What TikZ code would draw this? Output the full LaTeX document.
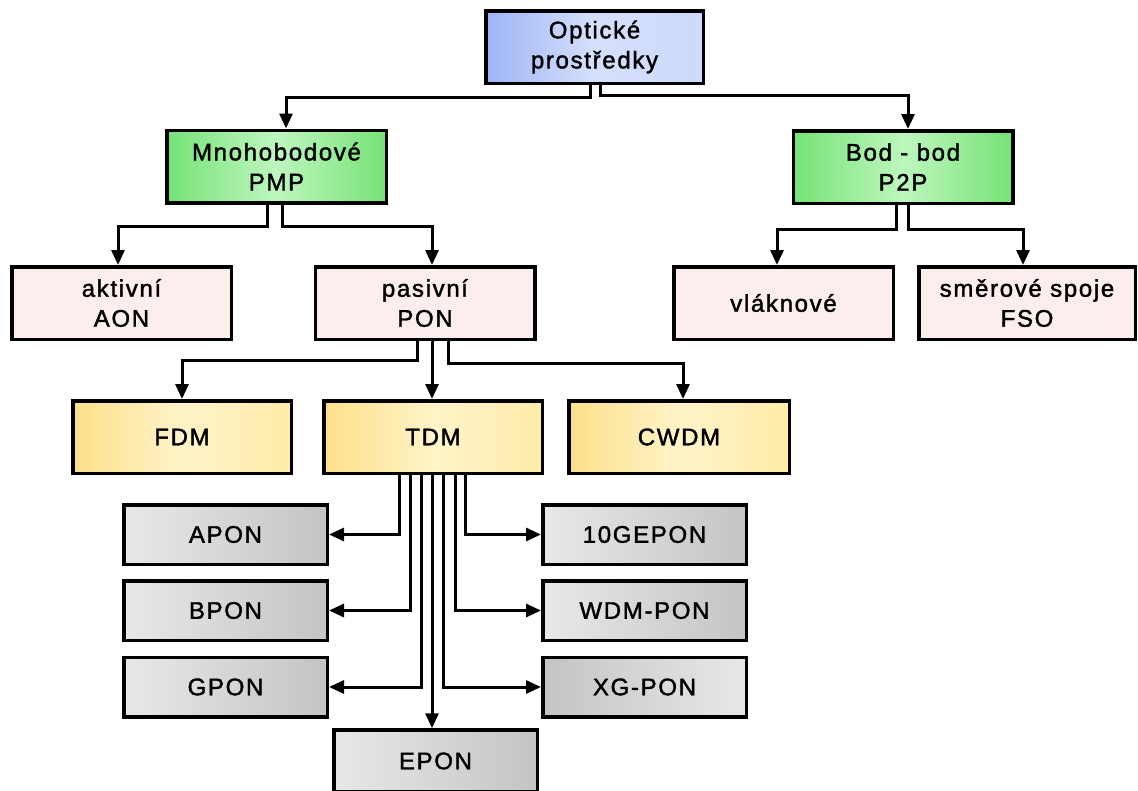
\documentclass[tikz,border=0pt]{standalone}
\usepackage{fontspec}
\setmainfont{Liberation Sans}[LetterSpace=7, FakeBold=1.6]
\usetikzlibrary{arrows.meta}

\definecolor{bluedark}{RGB}{157,181,246}
\definecolor{bluelight}{RGB}{214,224,252}
\definecolor{greendark}{RGB}{118,226,118}
\definecolor{greenlight}{RGB}{190,246,190}
\definecolor{pinkfill}{RGB}{253,238,238}
\definecolor{yellowdark}{RGB}{252,224,138}
\definecolor{yellowlight}{RGB}{255,243,200}
\definecolor{yellowmid}{RGB}{255,236,170}
\definecolor{greylight}{RGB}{232,232,232}
\definecolor{greydark}{RGB}{196,196,196}

\begin{document}
\begin{tikzpicture}[x=1pt,y=-1pt,
  box/.style={draw=black, line width=3.5pt, align=center, inner sep=0pt,
              font=\fontsize{24}{30}\selectfont, text=black},
  bigbox/.style={box, minimum width=219.5pt, minimum height=72.5pt},
  smallbox/.style={box, minimum width=203.5pt, minimum height=59.5pt},
  bluebox/.style={bigbox, left color=bluedark, right color=bluelight!85!bluedark, middle color=bluelight},
  greenbox/.style={bigbox, left color=greendark, right color=greendark, middle color=greenlight},
  pinkbox/.style={bigbox, fill=pinkfill},
  yellowbox/.style={bigbox, left color=yellowdark, right color=yellowmid, middle color=yellowlight},
  greybox/.style={smallbox, left color=greylight, right color=greydark},
  greyboxrev/.style={smallbox, left color=greydark, right color=greylight},
  conn/.style={line width=3pt, -{Triangle[length=15pt,width=13pt]}}
]
\useasboundingbox (0,0) rectangle (1138,790);

% top level
\node[bluebox, minimum width=217.5pt] (top) at (594.5,47) {Optické\\prostředky};

% second level
\node[greenbox] (pmp) at (276.5,166.5) {Mnohobodové\\PMP};
\node[greenbox] (p2p) at (903,167) {Bod - bod\\P2P};

% third level
\node[pinkbox] (aon) at (121.5,303) {aktivní\\AON};
\node[pinkbox] (pon) at (425,303) {pasivní\\PON};
\node[pinkbox] (vlak) at (783.5,303) {vláknové};
\node[pinkbox, minimum width=216.5pt] (fso) at (1027,303) {směrové spoje\\FSO};

% multiplexing
\node[yellowbox, minimum width=218.5pt] (fdm) at (182,437) {FDM};
\node[yellowbox, minimum width=218.5pt] (tdm) at (433,437) {TDM};
\node[yellowbox, minimum width=220.5pt] (cwdm) at (679,437) {CWDM};

% TDM variants
\node[greybox] (apon) at (225.5,534.5) {APON};
\node[greybox] (bpon) at (225.5,610.5) {BPON};
\node[greybox] (gpon) at (225.5,687) {GPON};
\node[greybox, minimum height=62pt] (epon) at (435.5,761) {EPON};
\node[greybox] (tenge) at (644.5,534.5) {10GEPON};
\node[greybox] (wdm) at (644.5,610.5) {WDM-PON};
\node[greyboxrev] (xg) at (644.5,687) {XG-PON};

% connectors
\draw[conn] ([xshift=-4.5pt]top.south) -- ++(0,12) -| ([xshift=9.5pt]pmp.north);
\draw[conn] ([xshift=5.5pt]top.south) -- ++(0,10) -| ([xshift=5pt]p2p.north);

\draw[conn] ([xshift=-9.5pt]pmp.south) -- ++(0,22) -| ([xshift=-3.5pt]aon.north);
\draw[conn] ([xshift=5.5pt]pmp.south) -- ++(0,22) -| ([xshift=7pt]pon.north);

\draw[conn] ([xshift=-7pt]p2p.south) -- ++(0,24) -| ([xshift=-6.5pt]vlak.north);
\draw[conn] ([xshift=5pt]p2p.south) -- ++(0,24) -| ([xshift=-4pt]fso.north);

\draw[conn] ([xshift=-8pt]pon.south) -- ++(0,19) -| (fdm.north);
\draw[conn] ([xshift=7pt]pon.south) -- ([xshift=7pt]pon.south |- tdm.north);
\draw[conn] ([xshift=23pt]pon.south) -- ++(0,22) -| ([xshift=4pt]cwdm.north);

\draw[conn] ([xshift=-34pt]tdm.south) |- (apon.east);
\draw[conn] ([xshift=-23pt]tdm.south) |- (bpon.east);
\draw[conn] ([xshift=-12pt]tdm.south) |- (gpon.east);
\draw[conn] ([xshift=-1pt]tdm.south) -- ([xshift=-1pt]tdm.south |- epon.north);
\draw[conn] ([xshift=10pt]tdm.south) |- (xg.west);
\draw[conn] ([xshift=22pt]tdm.south) |- (wdm.west);
\draw[conn] ([xshift=32pt]tdm.south) |- (tenge.west);
\end{tikzpicture}
\end{document}
